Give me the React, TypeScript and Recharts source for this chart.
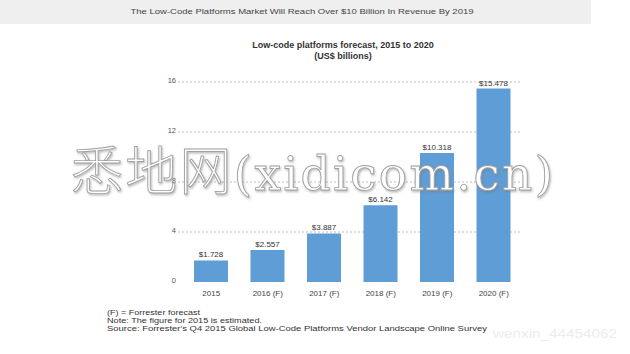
import React from 'react';
import { BarChart, Bar, XAxis, YAxis, CartesianGrid, LabelList } from 'recharts';

const years = ['2015', '2016 (F)', '2017 (F)', '2018 (F)', '2019 (F)', '2020 (F)'];
const revenue = [1.728, 2.557, 3.887, 6.142, 10.318, 15.478];
const yTicks = [0, 4, 8, 12, 16];
const gridValues = [4, 8, 12, 16];

const bannerText = 'The Low-Code Platforms Market Will Reach Over $10 Billion In Revenue By 2019';
const titleLine1 = 'Low-code platforms forecast, 2015 to 2020';
const titleLine2 = '(US$ billions)';
const footerLines = [
  '(F) = Forrester forecast',
  'Note: The figure for 2015 is estimated.',
  "Source: Forrester's Q4 2015 Global Low-Code Platforms Vendor Landscape Online Survey",
];
const footerLengths = [93, 155, 380];
const watermarkCjk = '悉地网';
const watermarkLatin = '(xidicom.cn)';
const watermarkSmall = 'wenxin_44454062';

const data = years.map((year, i) => ({ year, value: revenue[i] }));

const FONT = "'Liberation Sans', Arial, Helvetica, sans-serif";

const YTick = (props: any) => {
  const { x, y, payload } = props;
  return (
    <text x={x} y={y - 2} dy="0.35em" textAnchor="end" fontSize={7.5} fill="#555" fontFamily={FONT}>
      {payload.value}
    </text>
  );
};

const XTick = (props: any) => {
  const { x, y, payload } = props;
  return (
    <text x={x} y={y} dy="0.71em" textAnchor="middle" fontSize={8} fill="#444" fontFamily={FONT}>
      {payload.value}
    </text>
  );
};

export default function App() {
  return (
    <div style={{ position: 'absolute', left: 0, top: 0, width: 630, height: 354, background: '#fff', overflow: 'hidden' }}>
      <svg width={630} height={354} style={{ position: 'absolute', left: 0, top: 0 }}>
        <rect x={0} y={0} width={591} height={24} fill="#efefef" />
        <text x={302} y={14} textAnchor="middle" fontSize={8} fill="#444" fontFamily={FONT} textLength={343} lengthAdjust="spacingAndGlyphs">
          {bannerText}
        </text>
        <text x={343} y={48} textAnchor="middle" fontSize={9} fontWeight="bold" fill="#333" fontFamily={FONT}>
          {titleLine1}
        </text>
        <text x={343} y={58.5} textAnchor="middle" fontSize={9} fontWeight="bold" fill="#333" fontFamily={FONT}>
          {titleLine2}
        </text>
        {footerLines.map((line, i) => (
          <text key={i} x={107} y={315 + i * 8} fontSize={7.5} fill="#333" fontFamily={FONT} textLength={footerLengths[i]} lengthAdjust="spacingAndGlyphs">
            {line}
          </text>
        ))}
        <text x={493} y={338} fontSize={13} fill="#ededed" fontFamily={FONT} textLength={124} lengthAdjust="spacingAndGlyphs">
          {watermarkSmall}
        </text>
      </svg>
      <div style={{ position: 'absolute', left: 0, top: 0 }}>
        <BarChart
          width={630}
          height={354}
          data={data}
          margin={{ top: 82, right: 108, bottom: 42, left: 0 }}
          barSize={34}
        >
          <CartesianGrid horizontal vertical={false} horizontalValues={gridValues} stroke="#bdbdbd" strokeDasharray="2 2" />
          <XAxis
            dataKey="year"
            axisLine={false}
            tickLine={false}
            tickSize={8}
            tickMargin={0}
            height={30}
            padding={{ left: 5, right: 0 }}
            tick={<XTick />}
            interval={0}
          />
          <YAxis
            domain={[0, 16]}
            ticks={yTicks}
            axisLine={false}
            tickLine={false}
            tickSize={0}
            tickMargin={2}
            width={178}
            tick={<YTick />}
          />
          <Bar dataKey="value" fill="#5e9dd5" isAnimationActive={false}>
            <LabelList
              dataKey="value"
              position="top"
              offset={3}
              formatter={(v: any) => `$${Number(v).toFixed(3)}`}
              style={{ fontSize: 8, fill: '#333', fontFamily: FONT }}
            />
          </Bar>
        </BarChart>
      </div>
      <svg width={630} height={354} style={{ position: 'absolute', left: 0, top: 0, pointerEvents: 'none' }}>
        <defs>
          <filter id="wmShadow" x="-10%" y="-30%" width="120%" height="160%">
            <feDropShadow dx={1} dy={1.5} stdDeviation={1.2} floodColor="#777" floodOpacity={0.5} />
          </filter>
        </defs>
        <text
          x={71}
          y={190}
          fill="#ffffff"
          stroke="#a0a0a0"
          strokeWidth={0.9}
          filter="url(#wmShadow)"
          textLength={482}
          lengthAdjust="spacing"
        >
          <tspan fontFamily="'Noto Sans CJK SC', sans-serif" fontSize={52} fontWeight={300}>{watermarkCjk}</tspan>
          <tspan fontFamily="'DejaVu Serif', 'Liberation Serif', serif" fontSize={47}>{watermarkLatin}</tspan>
        </text>
      </svg>
    </div>
  );
}
